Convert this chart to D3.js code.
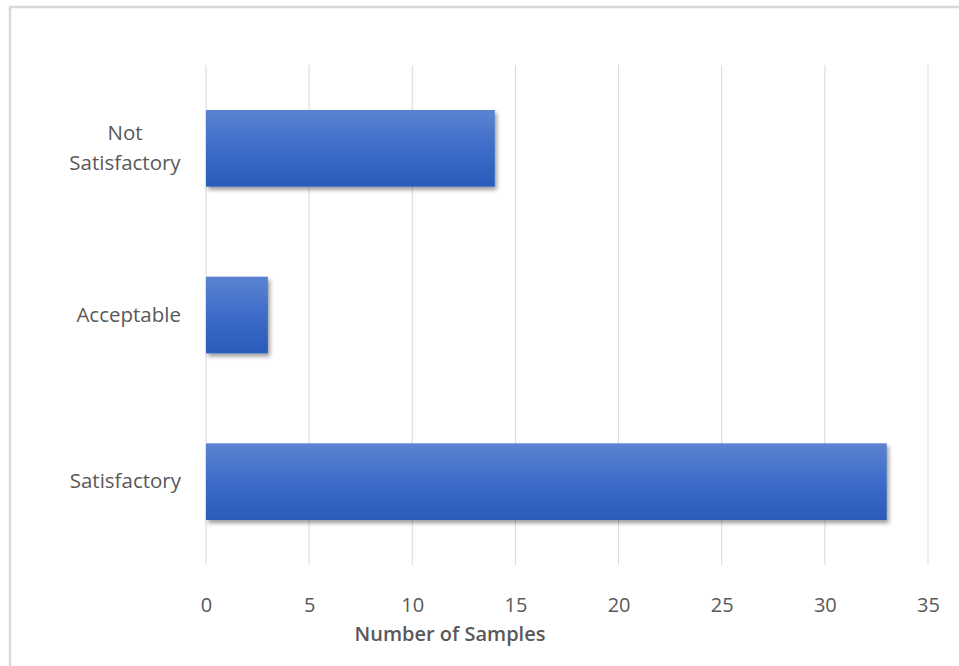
<!DOCTYPE html>
<html>
<head>
<meta charset="utf-8">
<script src="https://cdn.jsdelivr.net/npm/d3@7"></script>
<style>
  body { margin: 0; background: #fff; }
  text { font-family: "Open Sans", "Liberation Sans", Arial, sans-serif; fill: #595959; }
</style>
</head>
<body>
<div id="chart"></div>
<script>
// values
var categories = ["Not Satisfactory", "Acceptable", "Satisfactory"];
var samples = [14, 3, 33];
var xTicks = [0, 5, 10, 15, 20, 25, 30, 35];

var width = 959,
    height = 666;

var svg = d3.select("#chart")
    .append("svg")
    .attr("width", width)
    .attr("height", height);

// chart frame (only top and left edges are in view)
svg.append("path")
    .attr("d", "M10," + height + " L10,7 L" + width + ",7")
    .attr("stroke", "#d9d9d9")
    .attr("stroke-width", 2.5)
    .attr("fill", "none");

var defs = svg.append("defs");
var grad = defs.append("linearGradient")
    .attr("id", "barFill")
    .attr("x1", 0).attr("y1", 0).attr("x2", 0).attr("y2", 1);
grad.append("stop").attr("offset", "0%").attr("stop-color", "#5b83d1");
grad.append("stop").attr("offset", "50%").attr("stop-color", "#3d6cc9");
grad.append("stop").attr("offset", "100%").attr("stop-color", "#2a5bba");

var shadow = defs.append("filter")
    .attr("id", "shadow")
    .attr("x", "-5%").attr("y", "-20%")
    .attr("width", "115%").attr("height", "150%");
shadow.append("feDropShadow")
    .attr("dx", 2).attr("dy", 3)
    .attr("stdDeviation", 2)
    .attr("flood-color", "#000")
    .attr("flood-opacity", 0.4);

var x = d3.scaleLinear().domain([0, 35]).range([206, 928]);
var y = d3.scaleBand().domain(categories).range([65, 565]).paddingInner(0.54).paddingOuter(0.27);

// gridlines
svg.append("g")
    .selectAll("line")
    .data(xTicks)
    .enter()
    .append("line")
    .attr("x1", function(d) {return x(d);})
    .attr("x2", function(d) {return x(d);})
    .attr("y1", 65)
    .attr("y2", 565)
    .attr("stroke", "#d9d9d9")
    .attr("stroke-width", 1);

// bars
svg.append("g")
    .selectAll("rect")
    .data(samples)
    .enter()
    .append("rect")
    .attr("x", x(0))
    .attr("y", function(d, i) {return y(categories[i]);})
    .attr("width", function(d) {return x(d) - x(0);})
    .attr("height", y.bandwidth())
    .attr("fill", "url(#barFill)")
    .attr("filter", "url(#shadow)");

// x axis labels
var xAxis = d3.axisBottom(x).tickValues(xTicks).tickSize(0).tickPadding(0);
var gx = svg.append("g")
    .attr("transform", "translate(0,598)")
    .call(xAxis);
gx.select(".domain").remove();
gx.selectAll("text")
    .style("font-size", "20px")
    .style("font-family", "Open Sans, Liberation Sans, Arial, sans-serif")
    .attr("fill", "#595959");

// y axis labels (wrapped like the original)
var yAxis = d3.axisLeft(y).tickSize(0).tickPadding(25);
var gy = svg.append("g")
    .attr("transform", "translate(206,0)")
    .call(yAxis);
gy.select(".domain").remove();
gy.selectAll("text")
    .style("font-size", "20.5px")
    .style("font-family", "Open Sans, Liberation Sans, Arial, sans-serif")
    .attr("fill", "#595959")
    .each(function(d) {
      var t = d3.select(this);
      if (d === "Not Satisfactory") {
        t.text(null);
        t.attr("text-anchor", "middle").attr("x", -81);
        t.append("tspan").attr("x", -81).attr("dy", "-0.4em").text("Not");
        t.append("tspan").attr("x", -81).attr("dy", "1.45em").text("Satisfactory");
      }
    });

// axis title
svg.append("text")
    .attr("x", 450)
    .attr("y", 641)
    .attr("text-anchor", "middle")
    .style("font-size", "20px")
    .style("font-weight", "600")
    .text("Number of Samples");
</script>
</body>
</html>
